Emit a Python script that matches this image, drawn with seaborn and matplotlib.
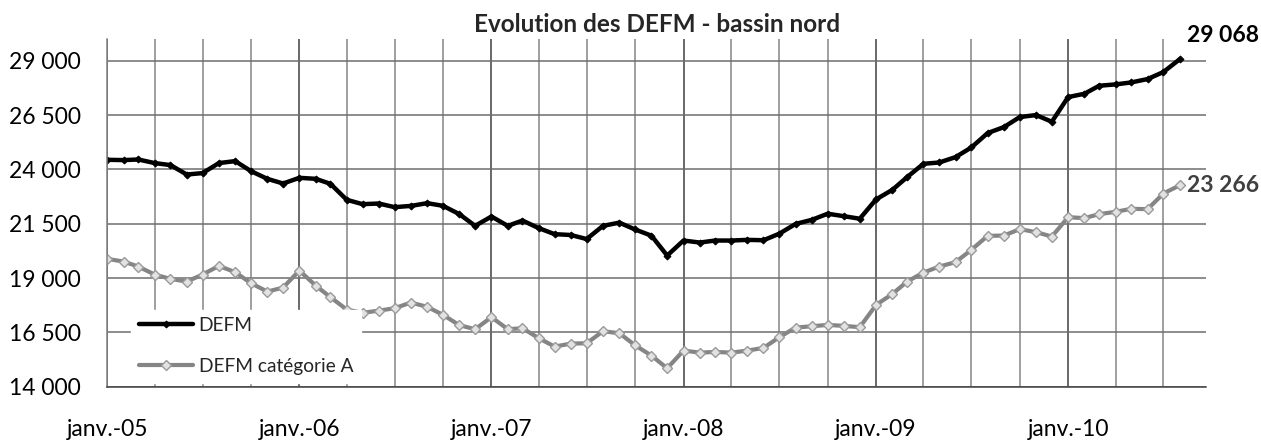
import pandas as pd
import matplotlib
matplotlib.use("Agg")
import matplotlib.pyplot as plt
import matplotlib.dates as mdates
import seaborn as sns

# monthly values, janv.-05 .. août-10
months = pd.date_range("2005-01-01", periods=68, freq="MS")

defm = [24441, 24427, 24455, 24290, 24197, 23764, 23829, 24290, 24381, 23920, 23566, 23350,
        23612, 23566, 23336, 22600, 22400, 22429, 22262, 22320, 22446, 22323, 21941, 21402,
        21831, 21402, 21646, 21296, 21020, 20980, 20795, 21402, 21550, 21235, 20950, 20035,
        20726, 20634, 20726, 20726, 20757, 20740, 21040, 21490, 21680, 21960, 21845, 21730,
        22620, 23060, 23645, 24257, 24317, 24565, 25008, 25671, 25947, 26407, 26500, 26191,
        27328, 27480, 27849, 27910, 28001, 28157, 28480, 29068]

defm_a = [19882, 19758, 19528, 19160, 18961, 18838, 19160, 19560, 19270, 18763, 18377, 18561,
          19343, 18653, 18119, 17550, 17400, 17500, 17612, 17872, 17674, 17306, 16830, 16646,
          17200, 16646, 16692, 16232, 15846, 15984, 16000, 16553, 16461, 15907, 15431, 14849,
          15661, 15569, 15600, 15569, 15661, 15785, 16277, 16719, 16784, 16843, 16800, 16738,
          17764, 18270, 18838, 19252, 19528, 19731, 20297, 20941, 20956, 21250, 21112, 20910,
          21800, 21757, 21941, 22047, 22185, 22171, 22890, 23266]

series_names = ["DEFM", "DEFM catégorie A"]
year_ticks = pd.date_range("2005-01-01", periods=6, freq="YS")
year_labels = ["janv.-05", "janv.-06", "janv.-07", "janv.-08", "janv.-09", "janv.-10"]
y_ticks = [14000, 16500, 19000, 21500, 24000, 26500, 29000]
y_labels = ["14 000", "16 500", "19 000", "21 500", "24 000", "26 500", "29 000"]

df = pd.DataFrame({"Mois": months, "DEFM": defm, "DEFM_A": defm_a})

sns.set_style("white")
plt.rcParams["font.family"] = ["Lato", "DejaVu Sans"]

fig = plt.figure(figsize=(12.61, 4.41), dpi=100)
ax = fig.add_axes([0.0851, 0.1231, 0.8713, 0.7885])

sns.lineplot(data=df, x="Mois", y="DEFM", ax=ax, color="black", linewidth=3.2,
             marker="D", markersize=3.5, markerfacecolor="black",
             markeredgecolor="black", label=series_names[0])
sns.lineplot(data=df, x="Mois", y="DEFM_A", ax=ax, color="#858585", linewidth=3,
             marker="D", markersize=5, markerfacecolor="#e2e2e2",
             markeredgecolor="#9a9a9a", markeredgewidth=1, label=series_names[1])

ax.set_ylim(14000, 30000)
ax.set_xlim(pd.Timestamp("2005-01-01"), pd.Timestamp("2010-09-20"))

ax.set_yticks(y_ticks)
ax.set_yticklabels(y_labels)
ax.set_xticks(year_ticks)
ax.set_xticklabels(year_labels)
ax.xaxis.set_minor_locator(mdates.MonthLocator(bymonth=[1, 4, 7, 10]))

ax.set_axisbelow(True)
ax.grid(True, axis="y", color="#6e6e6e", linewidth=1.1)
ax.grid(True, axis="x", which="minor", color="#858585", linewidth=1.1)
ax.grid(True, axis="x", which="major", color="#404040", linewidth=1.1)

ax.tick_params(axis="x", which="major", length=7, width=1.1, color="#404040",
               pad=16, labelsize=16.5, labelcolor="black")
ax.tick_params(axis="x", which="minor", length=0)
ax.tick_params(axis="y", length=7, width=1.1, color="#808080", pad=12,
               labelsize=16.5, labelcolor="black")

for side in ["top", "right"]:
    ax.spines[side].set_visible(False)
ax.spines["left"].set_color("#808080")
ax.spines["left"].set_linewidth(1.1)
ax.spines["bottom"].set_color("#404040")
ax.spines["bottom"].set_linewidth(1.1)

ax.set_xlabel("")
ax.set_ylabel("")
ax.set_title("Evolution des DEFM - bassin nord", fontsize=17.5, fontweight="bold",
             pad=5)

# end-of-series value labels
ax.annotate(f"{defm[-1]:,}".replace(",", " "), xy=(months[-1], defm[-1]),
            xytext=(5, 17), textcoords="offset points", fontsize=16.5,
            fontweight="bold", color="black", va="center", ha="left")
ax.annotate(f"{defm_a[-1]:,}".replace(",", " "), xy=(months[-1], defm_a[-1]),
            xytext=(5, 0), textcoords="offset points", fontsize=16.5,
            fontweight="bold", color="#404040", va="center", ha="left")

leg = ax.legend(loc="upper left", bbox_to_anchor=(0.022, 0.222), fontsize=13.8,
                frameon=True, fancybox=False, framealpha=1, facecolor="white",
                edgecolor="white", handlelength=2.8, handletextpad=0.3,
                labelspacing=1.25, borderpad=0.4, borderaxespad=0)

fig.savefig("out.png", dpi=100)
